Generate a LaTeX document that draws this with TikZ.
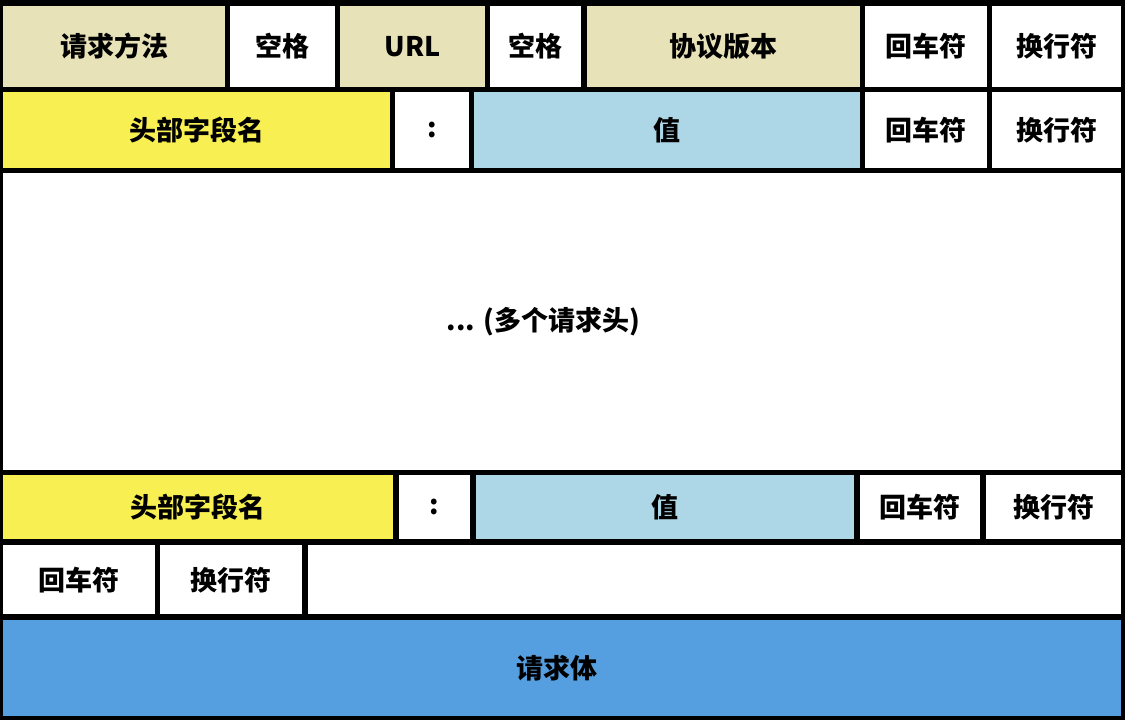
\documentclass[tikz,border=0pt]{standalone}
\usepackage{fontspec}
\setmainfont{Noto Sans CJK SC}
\usepackage{xcolor}
\definecolor{tan}{RGB}{232,226,184}
\definecolor{fieldyellow}{RGB}{248,239,82}
\definecolor{valueblue}{RGB}{173,214,230}
\definecolor{bodyblue}{RGB}{85,159,224}
\tikzset{
    cell/.style = {draw=none, fill=white, rectangle, inner sep=0pt, anchor=north west, font=\fontsize{27}{30}\selectfont\bfseries},
    row-one/.style = {cell, minimum height=81pt},
    row-two/.style = {cell, minimum height=76pt},
    row-four/.style = {cell, minimum height=64pt},
    row-five/.style = {cell, minimum height=69pt},
}
\begin{document}
\begin{tikzpicture}[x=1pt, y=-1pt]
\useasboundingbox (0,0) rectangle (1129,721);
\fill[black] (0,0) rectangle (1125,720);
% request line
\node[row-one, fill=tan, minimum width=222pt] (method) at (3,5.5) {请求方法};
\node[row-one, minimum width=105.5pt] (space-a) at (229.5,5.5) {空格};
\node[row-one, fill=tan, minimum width=144.5pt] (url) at (340,5.5) {URL};
\node[row-one, minimum width=91pt] (space-b) at (490,5.5) {空格};
\node[row-one, fill=tan, minimum width=272.5pt] (version) at (587,5.5) {协议版本};
\node[row-one, minimum width=122pt] (cr-a) at (865,5.5) {回车符};
\node[row-one, minimum width=129pt] (lf-a) at (992,5.5) {换行符};
% first header
\node[row-two, fill=fieldyellow, minimum width=387pt] (name-a) at (3,92) {头部字段名};
\node[row-two, minimum width=74pt] (colon-a) at (395,92) {:};
\node[row-two, fill=valueblue, minimum width=385.5pt] (value-a) at (474,92) {值};
\node[row-two, minimum width=122pt] (cr-b) at (865,92) {回车符};
\node[row-two, minimum width=129pt] (lf-b) at (992,92) {换行符};
% more headers
\node[cell, minimum width=1118pt, minimum height=297.5pt] (headers) at (3,172.5) {\hspace*{-38pt}... (多个请求头)};
% last header
\node[row-four, fill=fieldyellow, minimum width=390pt] (name-b) at (3,475) {头部字段名};
\node[row-four, minimum width=71pt] (colon-b) at (399,475) {:};
\node[row-four, fill=valueblue, minimum width=378pt] (value-b) at (476,475) {值};
\node[row-four, minimum width=120pt] (cr-c) at (860,475) {回车符};
\node[row-four, minimum width=135pt] (lf-c) at (986,475) {换行符};
% blank line
\node[row-five, minimum width=152pt] (cr-d) at (3,545) {回车符};
\node[row-five, minimum width=142pt] (lf-d) at (160,545) {换行符};
\node[row-five, minimum width=813pt] (blank) at (308,545) {};
% body
\node[cell, fill=bodyblue, minimum width=1118pt, minimum height=96pt] (body) at (3,620) {\hspace*{-10pt}请求体};
\end{tikzpicture}
\end{document}
